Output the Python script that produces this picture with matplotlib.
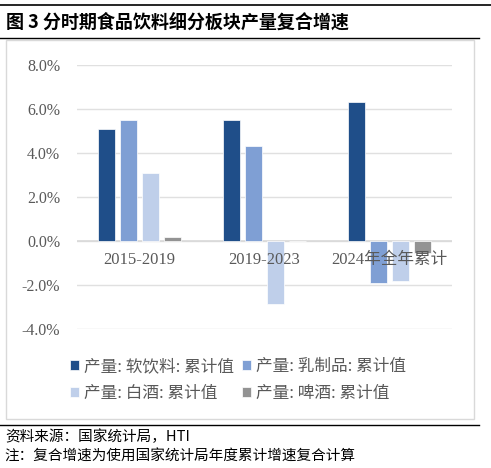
import numpy as np
import matplotlib.pyplot as plt
from matplotlib.patches import Rectangle
from matplotlib.lines import Line2D

plt.rcParams['font.family'] = ['Noto Sans CJK SC', 'DejaVu Sans']

categories = ['2015-2019', '2019-2023', '2024年全年累计']
series = ['产量: 软饮料: 累计值', '产量: 乳制品: 累计值', '产量: 白酒: 累计值', '产量: 啤酒: 累计值']
values = [
    [5.1, 5.5, 6.3],     # 软饮料
    [5.5, 4.3, -1.9],    # 乳制品
    [3.1, -2.85, -1.8],  # 白酒
    [0.2, 0.0, -0.55],   # 啤酒
]
colors = ['#1f4e89', '#7f9fd4', '#bfcfea', '#939393']
yticks = [-4, -2, 0, 2, 4, 6, 8]

fig = plt.figure(figsize=(4.91, 4.68), dpi=100)

# header lines and title
fig.add_artist(Line2D([0.0, 1.0], [1 - 5/468, 1 - 5/468], color='black', lw=1.2))
fig.text(0.012, 1 - 22/468, '图 3 分时期食品饮料细分板块产量复合增速', fontsize=13,
         fontweight='bold', va='center', ha='left')
fig.add_artist(Line2D([0.0, 0.975], [1 - 38/468, 1 - 38/468], color='black', lw=1.0))
# chart frame
fig.add_artist(Rectangle((6/491, 1 - 419/468), (474 - 6)/491, (419 - 40)/468,
                         fill=False, ec='#d9d9d9', lw=1.0))
fig.add_artist(Line2D([0.0, 0.975], [1 - 425/468, 1 - 425/468], color='black', lw=1.0))
fig.text(0.01, 1 - 437/468, '资料来源：国家统计局，HTI', fontsize=10.5, va='center', ha='left')
fig.text(0.01, 1 - 457/468, '注：复合增速为使用国家统计局年度累计增速复合计算', fontsize=10.5,
         va='center', ha='left')

ax = fig.add_axes([77/491, 1 - 329/468, (452 - 77)/491, (329 - 65)/468])
x = np.arange(len(categories))
step = 0.176
width = 0.14
bars = []
for i, (vals, c) in enumerate(zip(values, colors)):
    b = ax.bar(x + (i - 1.5) * step, vals, width, color=c, label=series[i],
               edgecolor='white', linewidth=0.5, zorder=3)
    bars.append(b)

ax.set_xlim(-0.5, 2.5)
ax.set_ylim(-4, 8)
ax.set_yticks(yticks)
ax.set_yticklabels(['%.1f%%' % v for v in yticks], family=['Liberation Serif', 'Noto Sans CJK SC'],
                   fontsize=11.5, color='#595959')
ax.tick_params(axis='y', length=0, pad=12)
ax.set_xticks([])
ax.grid(axis='y', color='#e0e0e0', lw=1.0, zorder=0)
ax.axhline(0, color='#d9d9d9', lw=1.2, zorder=2)
for s in ax.spines.values():
    s.set_visible(False)

for xi, lab in zip(x, categories):
    ax.annotate(lab, (xi, 0), xytext=(0, -8), textcoords='offset points', ha='center', va='top',
                fontsize=12, color='#595959', family=['Liberation Serif', 'Noto Sans CJK SC'],
                zorder=5)

# row-wise legend order
order = [0, 2, 1, 3]
fig.legend([bars[i] for i in order], [series[i] for i in order],
           loc='center', bbox_to_anchor=(0.485, 1 - 380/468), ncol=2, frameon=False,
           fontsize=12, handlelength=0.55, handleheight=0.55, handletextpad=0.3,
           columnspacing=0.5, labelspacing=0.6, labelcolor='#595959')

fig.savefig('out.png', dpi=100)
